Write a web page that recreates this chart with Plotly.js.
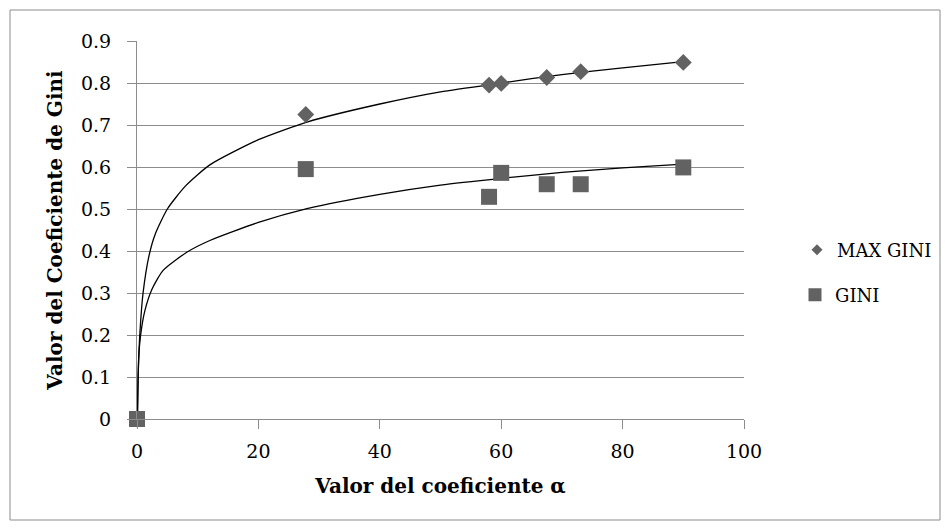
<!DOCTYPE html>
<html>
<head>
<meta charset="utf-8">
<script src="https://cdn.plot.ly/plotly-3.0.1.min.js"></script>
<style>
html,body{margin:0;padding:0;background:#fff;}
#chart{width:952px;height:530px;}
</style>
</head>
<body>
<div id="chart"></div>
<script>
// Data points
var alphaValues = [0, 27.8, 58, 60, 67.5, 73.1, 90];
var maxGini = [0, 0.725, 0.795, 0.799, 0.813, 0.827, 0.849];
var gini = [0, 0.595, 0.529, 0.586, 0.559, 0.559, 0.599];

// Trend lines
var trendMaxX = [0.08, 0.2, 0.5, 1, 2, 3, 5, 8, 12, 20, 28, 40, 50, 60, 70, 80, 90];
var trendMaxY = [0, 0.11, 0.21, 0.30, 0.39, 0.44, 0.50, 0.555, 0.605, 0.665, 0.707, 0.75, 0.779, 0.80, 0.82, 0.836, 0.851];
var trendGiniX = [0.05, 0.3, 0.6, 1.3, 2.5, 4.3, 8.2, 12, 20, 28, 40, 50, 60, 70, 80, 90];
var trendGiniY = [0, 0.15, 0.20, 0.258, 0.31, 0.354, 0.397, 0.425, 0.468, 0.501, 0.535, 0.557, 0.573, 0.587, 0.598, 0.607];

var seriesNames = ["MAX GINI", "GINI"];
var xTitle = "Valor del coeficiente α";
var yTitle = "Valor del Coeficiente de Gini";

var font = "'DejaVu Serif', 'Liberation Serif', serif";
var markerColor = "#626262";
var axisGray = "#8c8c8c";

var traces = [
  {x: trendMaxX, y: trendMaxY, mode: "lines", line: {color: "#000", width: 1.3, shape: "spline", smoothing: 0.6}, showlegend: false, hoverinfo: "skip"},
  {x: trendGiniX, y: trendGiniY, mode: "lines", line: {color: "#000", width: 1.3, shape: "spline", smoothing: 0.6}, showlegend: false, hoverinfo: "skip"},
  {x: alphaValues, y: maxGini, mode: "markers", marker: {symbol: "diamond", size: 13, color: markerColor}, showlegend: false, cliponaxis: false},
  {x: alphaValues, y: gini, mode: "markers", marker: {symbol: "square", size: 16, color: markerColor}, showlegend: false, cliponaxis: false},
  {x: [null], y: [null], mode: "markers", name: seriesNames[0], marker: {symbol: "diamond", size: 8.5, color: markerColor}, legend: "legend"},
  {x: [null], y: [null], mode: "markers", name: seriesNames[1], marker: {symbol: "square", size: 13, color: markerColor}, legend: "legend2"}
];

var plotL = 137, plotR = 744, plotT = 41, plotB = 419, W = 952, H = 530;
var pw = plotR - plotL, ph = plotB - plotT;
function px(x){ return (x - plotL) / pw; }
function py(y){ return (plotB - y) / ph; }

var layout = {
  width: W, height: H,
  margin: {l: plotL, r: W - plotR, t: plotT, b: H - plotB},
  paper_bgcolor: "#fff", plot_bgcolor: "#fff",
  font: {family: font, size: 19, color: "#000"},
  xaxis: {
    range: [0, 100], dtick: 20, tick0: 0,
    showgrid: false, zeroline: false,
    showline: true, linecolor: axisGray, linewidth: 1,
    ticks: "outside", ticklen: 9, tickcolor: axisGray,
    ticklabelstandoff: 6,
    tickfont: {family: font, size: 19},
    title: {text: "<b>" + xTitle + "</b>", font: {family: font, size: 20}, standoff: 18}
  },
  yaxis: {
    range: [0, 0.9], dtick: 0.1, tick0: 0,
    showgrid: true, gridcolor: axisGray, gridwidth: 1,
    zeroline: false,
    showline: true, linecolor: axisGray, linewidth: 1,
    ticks: "outside", ticklen: 9, tickcolor: axisGray,
    ticklabelstandoff: 12,
    tickfont: {family: font, size: 19},
    title: {text: "<b>" + yTitle + "</b>", font: {family: font, size: 20}, standoff: 12}
  },
  legend: {x: px(797), y: py(250), xanchor: "left", yanchor: "middle", bgcolor: "rgba(0,0,0,0)", font: {family: font, size: 18}, itemwidth: 30},
  legend2: {x: px(795), y: py(295), xanchor: "left", yanchor: "middle", bgcolor: "rgba(0,0,0,0)", font: {family: font, size: 18}, itemwidth: 30},
  shapes: [{
    type: "rect", xref: "paper", yref: "paper",
    x0: px(10), x1: px(940), y0: py(520), y1: py(10),
    line: {color: axisGray, width: 1}
  }],
  showlegend: true
};

Plotly.newPlot("chart", traces, layout, {displayModeBar: false, staticPlot: true});
</script>
</body>
</html>
